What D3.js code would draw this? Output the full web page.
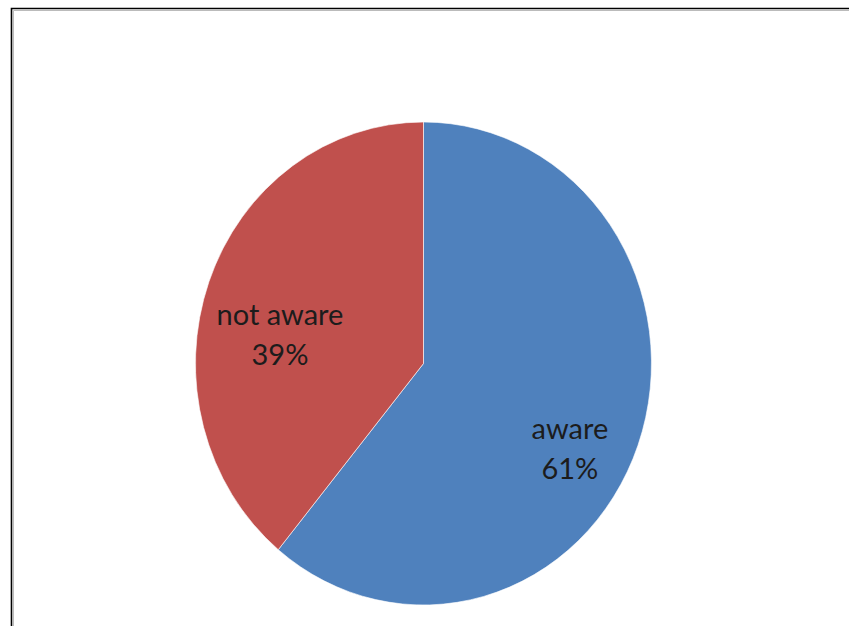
<!DOCTYPE html>
<html>
<head>
<meta charset="utf-8">
<script src="https://cdn.jsdelivr.net/npm/d3@7"></script>
<style>
  html, body { margin: 0; padding: 0; background: #fff; }
  svg { display: block; }
</style>
</head>
<body>
<svg id="chart" width="849" height="626"></svg>
<script>
const categories = ["aware", "not aware"];
const values = [61, 39];
const colors = ["#4F81BD", "#C0504D"];

const svg = d3.select("#chart");

// frame (left and top edges of the chart area)
svg.append("path")
  .attr("d", "M11.5,626 L11.5,8.5 L849,8.5")
  .attr("fill", "none").attr("stroke", "#000").attr("stroke-width", 1.6);
svg.append("path")
  .attr("d", "M13.5,626 L13.5,10.5 L849,10.5")
  .attr("fill", "none").attr("stroke", "#bbb").attr("stroke-width", 1);

const cx = 423.5, cy = 363.5, rx = 228, ry = 241.5;

const pie = d3.pie().sort(null).value(d => d.v);
const arcs = pie(categories.map((c, i) => ({ c, v: values[i], col: colors[i] })));
const arc = d3.arc().innerRadius(0).outerRadius(1);

const g = svg.append("g")
  .attr("transform", `translate(${cx},${cy}) scale(${rx},${ry})`);
g.selectAll("path").data(arcs).enter().append("path")
  .attr("d", arc)
  .attr("fill", d => d.data.col)
  .attr("stroke", "#fff")
  .attr("stroke-opacity", 0.6)
  .attr("stroke-width", 1)
  .attr("vector-effect", "non-scaling-stroke");

// labels
const labelArc = d3.arc().innerRadius(0).outerRadius(1);
const labelFactor = [1.45, 1.2];
const labelShift = [[-0.04, 0.08], [-0.065, 0.059]];
const fs = 29;
const lg = svg.append("g");
arcs.forEach((d, i) => {
  const c = labelArc.centroid(d);
  const x = cx + (c[0] * labelFactor[i] + labelShift[i][0]) * rx;
  const y = cy + (c[1] * labelFactor[i] + labelShift[i][1]) * ry;
  const t = lg.append("text")
    .attr("x", x).attr("y", y)
    .attr("text-anchor", "middle")
    .attr("font-family", "Lato, 'Open Sans', sans-serif")
    .attr("font-size", fs)
    .attr("fill", "#1c1c1c");
  t.append("tspan").attr("x", x).attr("dy", "-0.12em").text(d.data.c);
  t.append("tspan").attr("x", x).attr("dy", "1.38em").text(d.data.v + "%");
});
</script>
</body>
</html>
